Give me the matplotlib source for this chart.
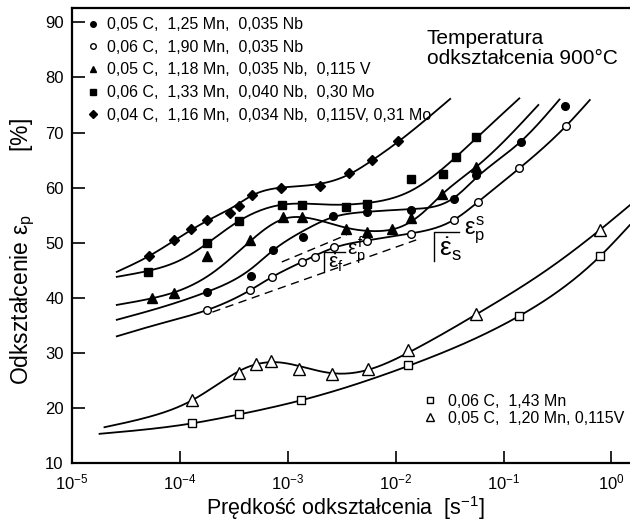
import numpy as np
import matplotlib
matplotlib.use("Agg")
import matplotlib.pyplot as plt
from matplotlib.lines import Line2D
from matplotlib.ticker import NullLocator

plt.rcParams['font.family'] = ['Liberation Sans', 'DejaVu Sans']
plt.rcParams['mathtext.fontset'] = 'custom'
plt.rcParams['mathtext.rm'] = 'Liberation Sans'
plt.rcParams['mathtext.it'] = 'Liberation Sans'
plt.rcParams['mathtext.bf'] = 'Liberation Sans:bold'

#=====
# measured points (strain rate [1/s], strain [%])
#=====
dia_x = [5.2e-5, 8.9e-5, 1.26e-4, 1.8e-4, 2.9e-4, 3.5e-4, 4.7e-4, 8.7e-4, 2.0e-3, 3.7e-3, 6.0e-3, 1.05e-2]
dia_y = [47.6, 50.5, 52.4, 54.2, 55.4, 56.6, 58.6, 59.9, 60.3, 62.6, 65.1, 68.4]
sq_x = [5.1e-5, 1.8e-4, 3.5e-4, 8.9e-4, 1.35e-3, 3.5e-3, 5.4e-3, 1.38e-2, 2.75e-2, 3.6e-2, 5.6e-2]
sq_y = [44.7, 49.9, 54.0, 56.9, 56.9, 56.5, 57.1, 61.6, 62.5, 65.5, 69.2]
tri_x = [5.5e-5, 8.9e-5, 1.8e-4, 4.5e-4, 9.1e-4, 1.35e-3, 3.5e-3, 5.4e-3, 9.3e-3, 1.4e-2, 2.7e-2, 5.6e-2]
tri_y = [39.9, 40.9, 47.6, 50.5, 54.6, 54.6, 52.5, 52.0, 52.5, 54.4, 58.9, 63.8]
dot_x = [1.8e-4, 4.6e-4, 7.3e-4, 1.38e-3, 2.6e-3, 5.4e-3, 1.4e-2, 3.5e-2, 5.6e-2, 0.146, 0.37]
dot_y = [41.1, 43.9, 48.7, 51.0, 54.9, 55.5, 55.9, 58.0, 62.2, 68.3, 74.9]
ring_x = [1.8e-4, 4.5e-4, 7.2e-4, 1.35e-3, 1.8e-3, 2.7e-3, 5.4e-3, 1.4e-2, 3.5e-2, 5.8e-2, 0.14, 0.38]
ring_y = [37.8, 41.4, 43.8, 46.5, 47.4, 49.3, 50.3, 51.6, 54.2, 57.4, 63.5, 71.2]
otri_x = [1.3e-4, 3.5e-4, 5.1e-4, 7.0e-4, 1.26e-3, 2.55e-3, 5.5e-3, 1.3e-2, 5.6e-2, 0.78]
otri_y = [21.4, 26.4, 28.0, 28.6, 27.0, 26.2, 27.0, 30.5, 37.0, 52.3]
osq_x = [1.3e-4, 3.5e-4, 1.34e-3, 1.3e-2, 0.14, 0.79]
osq_y = [17.2, 18.9, 21.4, 27.8, 36.7, 47.6]

#=====
# hand-drawn trend curves (knots along each line)
#=====
dia_cx = [2.6e-5, 5.2e-5, 8.9e-5, 1.8e-4, 3.2e-4, 4.7e-4, 8.7e-4, 2.0e-3, 3.7e-3, 6.0e-3, 1.05e-2, 3.2e-2]
dia_cy = [44.7, 47.6, 50.4, 54.0, 56.6, 58.6, 60.0, 60.7, 62.4, 64.9, 68.3, 76.1]
sq_cx = [2.6e-5, 5.1e-5, 1.0e-4, 1.8e-4, 3.5e-4, 8.9e-4, 2.5e-3, 5.4e-3, 1.38e-2, 2.75e-2, 5.6e-2, 0.14]
sq_cy = [43.8, 44.9, 46.8, 49.9, 53.9, 56.9, 56.9, 57.2, 59.4, 63.5, 69.0, 76.2]
tri_cx = [2.6e-5, 5.5e-5, 8.9e-5, 2.0e-4, 4.5e-4, 9.1e-4, 1.4e-3, 3.5e-3, 6.3e-3, 1.12e-2, 1.8e-2, 2.7e-2, 5.6e-2, 0.21]
tri_cy = [38.7, 39.9, 41.0, 44.5, 50.3, 54.3, 54.6, 52.7, 52.1, 52.9, 55.5, 58.8, 63.8, 75.0]
dot_cx = [2.6e-5, 6.3e-5, 1.8e-4, 4.6e-4, 7.3e-4, 1.38e-3, 2.6e-3, 5.4e-3, 1.4e-2, 3.5e-2, 5.6e-2, 0.145, 0.33]
dot_cy = [36.0, 38.1, 41.1, 45.3, 48.6, 52.1, 54.6, 55.6, 56.1, 58.2, 61.8, 68.4, 76.0]
ring_cx = [2.6e-5, 6.3e-5, 1.8e-4, 4.5e-4, 7.2e-4, 1.35e-3, 2.7e-3, 5.4e-3, 1.4e-2, 3.5e-2, 5.8e-2, 0.14, 0.38, 0.63]
ring_cy = [33.0, 35.2, 37.8, 41.4, 43.8, 46.5, 49.1, 50.4, 51.7, 54.2, 57.4, 63.5, 71.2, 75.9]
otri_cx = [2.0e-5, 5.0e-5, 1.3e-4, 2.5e-4, 4.0e-4, 7.9e-4, 1.4e-3, 2.6e-3, 5.5e-3, 1.3e-2, 5.6e-2, 0.25, 0.78, 1.48]
otri_cy = [16.5, 18.3, 21.4, 24.9, 27.2, 28.3, 27.4, 26.3, 26.9, 30.0, 37.0, 45.0, 52.3, 56.8]
osq_cx = [1.8e-5, 1.3e-4, 3.5e-4, 1.34e-3, 1.3e-2, 0.14, 0.79, 1.48]
osq_cy = [15.3, 17.2, 18.8, 21.4, 27.6, 36.7, 47.6, 53.2]

# tangent lines for the critical strain rates
tan_s_x = [2.0e-4, 1.55e-2]
tan_s_y = [37.4, 50.5]
tan_f_x = [8.8e-4, 3.5e-3]
tan_f_y = [46.5, 51.4]

labels_top = ["0,05 C,  1,25 Mn,  0,035 Nb",
              "0,06 C,  1,90 Mn,  0,035 Nb",
              "0,05 C,  1,18 Mn,  0,035 Nb,  0,115 V",
              "0,06 C,  1,33 Mn,  0,040 Nb,  0,30 Mo",
              "0,04 C,  1,16 Mn,  0,034 Nb,  0,115V, 0,31 Mo"]
labels_bottom = ["0,06 C,  1,43 Mn",
                 "0,05 C,  1,20 Mn, 0,115V"]


def spline(xk, yk, num=300):
    # natural cubic spline in log(x)
    x = np.log10(np.asarray(xk, float))
    y = np.asarray(yk, float)
    n = len(x)
    h = np.diff(x)
    A = np.zeros((n, n))
    b = np.zeros(n)
    A[0, 0] = A[-1, -1] = 1
    for i in range(1, n - 1):
        A[i, i - 1] = h[i - 1]
        A[i, i] = 2 * (h[i - 1] + h[i])
        A[i, i + 1] = h[i]
        b[i] = 3 * ((y[i + 1] - y[i]) / h[i] - (y[i] - y[i - 1]) / h[i - 1])
    c = np.linalg.solve(A, b)
    bc = (y[1:] - y[:-1]) / h - h * (2 * c[:-1] + c[1:]) / 3
    d = (c[1:] - c[:-1]) / (3 * h)
    xs = np.linspace(x[0], x[-1], num)
    i = np.clip(np.searchsorted(x, xs) - 1, 0, n - 2)
    dx = xs - x[i]
    ys = y[i] + bc[i] * dx + c[i] * dx ** 2 + d[i] * dx ** 3
    return 10 ** xs, ys


fig = plt.figure(figsize=(6.3, 5.22), dpi=100)
ax = fig.add_axes([0.1143, 0.113, 0.8857, 0.8716])

lw = 1.3
for cx, cy in [(dia_cx, dia_cy), (sq_cx, sq_cy), (tri_cx, tri_cy), (dot_cx, dot_cy),
               (ring_cx, ring_cy), (otri_cx, otri_cy), (osq_cx, osq_cy)]:
    sx, sy = spline(cx, cy)
    ax.plot(sx, sy, color='black', lw=lw, zorder=2)

ax.plot(tan_s_x, tan_s_y, color='black', lw=1.0, ls=(0, (6, 4)), zorder=2)
ax.plot(tan_f_x, tan_f_y, color='black', lw=1.0, ls=(0, (6, 4)), zorder=2)

# markers
ax.plot(dot_x, dot_y, 'o', color='black', ms=5.5, ls='none', zorder=3)
ax.plot(ring_x, ring_y, 'o', mfc='white', mec='black', mew=1.0, ms=5.5, ls='none', zorder=3)
ax.plot(tri_x, tri_y, '^', color='black', ms=6.5, ls='none', zorder=3)
ax.plot(sq_x, sq_y, 's', color='black', ms=5.5, ls='none', zorder=3)
ax.plot(dia_x, dia_y, 'D', color='black', ms=5.5, ls='none', zorder=3)
ax.plot(osq_x, osq_y, 's', mfc='white', mec='black', mew=1.0, ms=6, ls='none', zorder=3)
ax.plot(otri_x, otri_y, '^', mfc='white', mec='black', mew=1.0, ms=8, ls='none', zorder=3)

# epsilon_f / epsilon_s brackets
ax.plot([2.16e-3, 2.16e-3, 3.4e-3], [44.7, 48.4, 48.4], color='black', lw=1.0)
ax.text(2.35e-3, 46.3, r'$\dot{\varepsilon}_{\rm f}$', fontsize=15, va='center', ha='left')
ax.text(3.55e-3, 48.6, r'$\varepsilon_{\rm p}^{\rm f}$', fontsize=15, va='center', ha='left')
ax.plot([2.28e-2, 2.28e-2, 3.9e-2], [46.6, 52.0, 52.0], color='black', lw=1.0)
ax.text(2.5e-2, 48.8, r'$\dot{\varepsilon}_{\rm s}$', fontsize=19, va='center', ha='left')
ax.text(4.3e-2, 52.3, r'$\varepsilon_{\rm p}^{\rm s}$', fontsize=17, va='center', ha='left')

#=====
# axes
#=====
ax.set_xscale('log')
ax.set_xlim(1e-5, 1.486)
ax.set_ylim(10, 92.6)
ax.set_yticks(range(10, 91, 10))
ax.xaxis.set_minor_locator(NullLocator())
ax.tick_params(direction='in', length=9, width=1.2, labelsize=12, pad=6)
ax.tick_params(axis='x', pad=7)
for s in ['left', 'bottom', 'top']:
    ax.spines[s].set_linewidth(1.6)
ax.spines['right'].set_visible(False)

ax.set_xlabel('Prędkość odkształcenia  [s$^{-1}$]', fontsize=15.5)
ax.xaxis.set_label_coords(0.49, -0.068)
ax.set_ylabel(r'Odkształcenie $\varepsilon_{\rm p}$          [%]', fontsize=16.5)
ax.yaxis.set_label_coords(-0.062, 0.465)

ax.text(0.636, 0.955, 'Temperatura\nodkształcenia 900°C', transform=ax.transAxes,
        fontsize=15, va='top', ha='left', linespacing=1.1)

# legends
h_top = [Line2D([], [], marker='o', color='black', ls='none', ms=4),
         Line2D([], [], marker='o', mfc='white', mec='black', ls='none', ms=4),
         Line2D([], [], marker='^', color='black', ls='none', ms=5),
         Line2D([], [], marker='s', color='black', ls='none', ms=4),
         Line2D([], [], marker='D', color='black', ls='none', ms=4)]
leg1 = ax.legend(h_top, labels_top, loc='upper left', bbox_to_anchor=(0.029, 0.98),
                 frameon=False, fontsize=11.5, handlelength=0.6, handletextpad=0.57,
                 labelspacing=0.48, borderpad=0, borderaxespad=0)
ax.add_artist(leg1)
h_bot = [Line2D([], [], marker='s', mfc='white', mec='black', ls='none', ms=4.5),
         Line2D([], [], marker='^', mfc='white', mec='black', ls='none', ms=5.5)]
ax.legend(h_bot, labels_bottom, loc='upper left', bbox_to_anchor=(0.633, 0.152),
          frameon=False, fontsize=11.5, handlelength=0.6, handletextpad=0.83,
          labelspacing=0.12, borderpad=0, borderaxespad=0)

fig.savefig('out.png', dpi=100)
